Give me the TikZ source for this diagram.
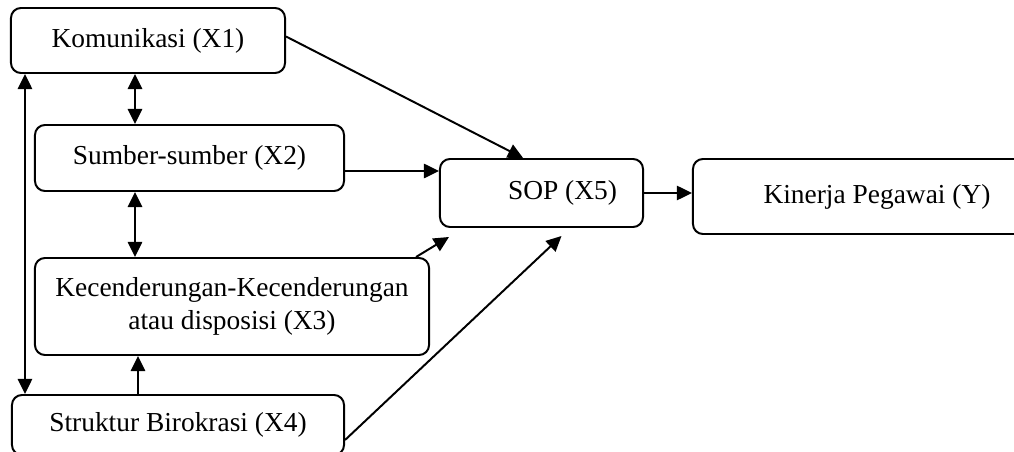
\documentclass[tikz,border=0pt]{standalone}
\usepackage{fontspec}
\setmainfont{Liberation Serif}
\usetikzlibrary{arrows.meta}
\tikzstyle{box} = [rectangle, rounded corners=0.25cm, draw=black, line width=1.4pt, text centered, font=\fontsize{19.5}{24}\selectfont]
\tikzstyle{arrow} = [line width=1.4pt, -{Triangle[length=0.38cm,width=0.36cm]}]
\tikzstyle{both} = [line width=1.4pt, {Triangle[length=0.38cm,width=0.36cm]}-{Triangle[length=0.38cm,width=0.36cm]}]

\begin{document}
\begin{tikzpicture}[x=0.025cm,y=-0.025cm]
\useasboundingbox (0,0) rectangle (1014,452);
\node (x1) [box, minimum width=6.85cm, minimum height=1.625cm] at (148,40.5) {Komunikasi (X1)};
\node (x2) [box, minimum width=7.725cm, minimum height=1.65cm] at (189.5,158) {Sumber-sumber (X2)};
\node (x3) [box, align=center, minimum width=9.85cm, minimum height=2.425cm] at (232,306.5) {Kecenderungan-Kecenderungan\\atau disposisi (X3)};
\node (x4) [box, minimum width=8.3cm, minimum height=1.5cm] at (178,425) {Struktur Birokrasi (X4)};
\node (x5) [box, text width=3.775cm, align=flush right, inner xsep=0.65cm, minimum height=1.7cm] at (541.5,193) {SOP (X5)};
\node (y) [box, minimum width=9.2cm, minimum height=1.875cm] at (877,196.5) {Kinerja Pegawai (Y)};

% helper points
\coordinate (a2) at ([yshift=-0.325cm]x2.east);
\coordinate (c12) at ([xshift=-0.325cm]x1.south);
\coordinate (c23) at (c12 |- x2.south);
\coordinate (c43) at (c12 |- x4.north);
\coordinate (c14) at ([xshift=0.375cm]x1.south west);

\draw [arrow] ([yshift=0.1cm]x1.east) -- ([xshift=-0.46cm]x5.north);
\draw [arrow] (a2) -- (a2 -| x5.west);
\draw [arrow] ([xshift=-0.35cm]x3.north east) -- ([xshift=0.25cm,yshift=-0.225cm]x5.south west);
\draw [arrow] ([yshift=-0.375cm]x4.east) -- ([xshift=0.5cm,yshift=-0.2cm]x5.south);
\draw [arrow] (x5.east) -- (x5.east -| y.west);
\draw [both] (c12) -- (c12 |- x2.north);
\draw [both] (c23) -- (c23 |- x3.north);
\draw [arrow] ([xshift=0.075cm]c43) -- ([xshift=0.075cm]c43 |- x3.south);
\draw [both] (c14) -- (c14 |- x4.north);
\end{tikzpicture}
\end{document}
